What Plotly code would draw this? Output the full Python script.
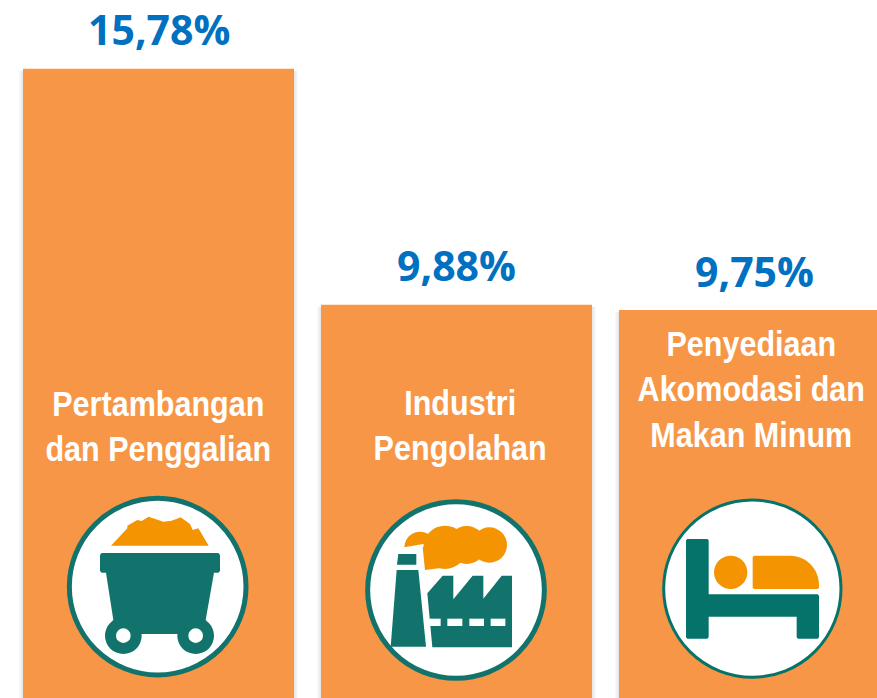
import math
import plotly.graph_objects as go

categories = ["Pertambangan<br>dan Penggalian", "Industri<br>Pengolahan", "Penyediaan<br>Akomodasi dan<br>Makan Minum"]
values = [15.78, 9.88, 9.75]
value_labels = ["15,78%", "9,88%", "9,75%"]
keys = ["A", "B", "C"]

W, H = 877, 698
BAR = "#F79646"
TEAL = "#11736B"
TEAL2 = "#06736B"
ORANGE = "#F39400"
BLUE = "#0070C0"


def X(p):
    return p / W


def Y(p):
    return 1 - p / H


def make_tx(ox, oy):
    return lambda x, y: (ox + x / 3, oy + y / 3)


def poly(tx, pts, fill):
    d = ""
    for i, (x, y) in enumerate(pts):
        a, b = tx(x, y)
        d += f"{'M' if i == 0 else 'L'}{X(a):.5f},{Y(b):.5f} "
    return dict(type="path", xref="paper", yref="paper", path=d + "Z", fillcolor=fill, line_width=0, layer="above")


def circ(tx, cx, cy, r, fill, lw=0, lc=None):
    a, b = tx(cx, cy)
    r = r / 3
    return dict(type="circle", xref="paper", yref="paper", x0=X(a - r), x1=X(a + r), y0=Y(b + r), y1=Y(b - r),
                fillcolor=fill, line=dict(width=lw, color=lc or fill), layer="above")


def rect(tx, x0, y0, x1, y1, fill):
    return poly(tx, [(x0, y0), (x1, y0), (x1, y1), (x0, y1)], fill)


shapes = []
# soft shadow at the sides of each bar
for left, v in zip((23, 321, 619), values):
    for spread in (1, 2, 3, 4):
        shapes.append(dict(type="rect", xref="paper", yref="y", layer="below",
                           x0=X(left - spread), x1=X(left + 271 + spread), y0=0, y1=v - 0.05,
                           fillcolor="rgba(0,0,0,0.022)", line_width=0))

# Icon 1: mine cart
t = make_tx(50, 485)
shapes.append(circ(t, 323, 305, 265, "white", 5, TEAL))
shapes.append(poly(t, [(183, 182), (232, 130), (232, 122), (262, 105), (275, 108), (296, 95), (318, 103), (340, 110),
                       (365, 107), (392, 97), (420, 117), (428, 135), (445, 130), (476, 182)], ORANGE))
shapes.append(poly(t, [(150, 210), (155, 204), (505, 204), (510, 210), (510, 258), (505, 263), (492, 263), (467, 405),
                       (490, 447), (165, 447), (190, 405), (168, 263), (155, 263), (150, 258)], TEAL))
for cx in (220, 437):
    shapes.append(circ(t, cx, 452, 55, TEAL))
    shapes.append(circ(t, cx, 452, 22, "white"))

# Icon 2: factory
t = make_tx(350, 490)
shapes.append(circ(t, 318, 300, 265, "white", 5, TEAL))
half = [(210 - 47 * math.cos(a * math.pi / 12), 172 - 47 * math.sin(a * math.pi / 12)) for a in range(0, 13)]
shapes.append(poly(t, half + [(218, 172), (225, 240), (290, 232), (290, 150)], ORANGE))
shapes.append(circ(t, 285, 172, 65, ORANGE))
shapes.append(circ(t, 350, 165, 57, ORANGE))
shapes.append(circ(t, 418, 165, 53, ORANGE))
shapes.append(poly(t, [(145, 192), (199, 192), (199, 224), (141, 224)], TEAL))
shapes.append(poly(t, [(140, 240), (205, 240), (228, 470), (122, 470)], TEAL))
shapes.append(poly(t, [(232, 310), (278, 257), (310, 257), (310, 328), (368, 257), (400, 257), (400, 326), (455, 257),
                       (486, 257), (486, 472), (247, 472)], TEAL))
shapes.append(rect(t, 238, 386, 272, 408, "white"))
shapes.append(rect(t, 292, 386, 337, 408, "white"))
shapes.append(rect(t, 358, 386, 402, 408, "white"))
shapes.append(rect(t, 422, 386, 466, 408, "white"))

# Icon 3: bed
t = make_tx(650, 490)
shapes.append(circ(t, 307, 296, 266, "white", 3, TEAL2))
shapes.append(poly(t, [(112, 147), (172, 147), (176, 151), (176, 313), (503, 313), (507, 317), (507, 442), (503, 446),
                       (444, 446), (440, 442), (440, 380), (176, 380), (176, 442), (172, 446), (112, 446), (108, 442),
                       (108, 151)], TEAL2))
shapes.append(circ(t, 242, 247, 50, ORANGE))
curve = []
for i in range(0, 13):
    a = i * math.pi / 24
    curve.append((420 + 87 * math.sin(a), 285 - 88 * math.cos(a)))
shapes.append(poly(t, [(312, 197)] + curve + [(507, 293), (503, 297), (312, 297), (308, 293), (308, 201)], ORANGE))

fig = go.Figure(go.Bar(x=keys, y=values, marker=dict(color=BAR, line_width=0), hoverinfo="skip"))

annotations = []
label_px = [(158, 426), (460, 425), (751, 389)]
value_px = [29, 265, 271]
for key, cat, lab, (lx, ly), vy in zip(keys, categories, value_labels, label_px, value_px):
    annotations.append(dict(x=X(lx), y=Y(ly), xref="paper", yref="paper", text=f"<b>{cat}</b>", showarrow=False,
                            xanchor="center", yanchor="middle", align="center",
                            font=dict(family="Liberation Sans", size=35, color="white")))
    annotations.append(dict(x=key, xref="x", y=Y(vy), yref="paper", text=f"<b>{lab}</b>", showarrow=False,
                            xanchor="center", yanchor="middle",
                            font=dict(family="Open Sans", size=41, color=BLUE)))

fig.update_layout(
    width=W, height=H, autosize=False,
    margin=dict(l=0, r=0, t=0, b=0, pad=0),
    paper_bgcolor="white", plot_bgcolor="white",
    showlegend=False,
    bargap=27 / 298,
    xaxis=dict(type="category", range=[-158.5 / 298, (W - 158.5) / 298], visible=False, fixedrange=True),
    yaxis=dict(range=[2 / 40, 700 / 40], visible=False, fixedrange=True),
    shapes=shapes,
    annotations=annotations,
)

# The reference's category labels are set in a narrow face that is not installed: condense the real text.
post = """
document.body.style.margin='0';document.body.style.overflow='hidden';
document.querySelectorAll('.annotation-text').forEach(function(el){
  if(el.style.fontFamily.indexOf('Liberation')<0){return;}
  var b=el.getBBox();var c=b.x+b.width/2;
  el.setAttribute('transform','translate('+c+',0) scale(0.873,1) translate('+(-c)+',0)');
});
"""
fig.write_html("out.html", post_script=post, config={"displayModeBar": False})
